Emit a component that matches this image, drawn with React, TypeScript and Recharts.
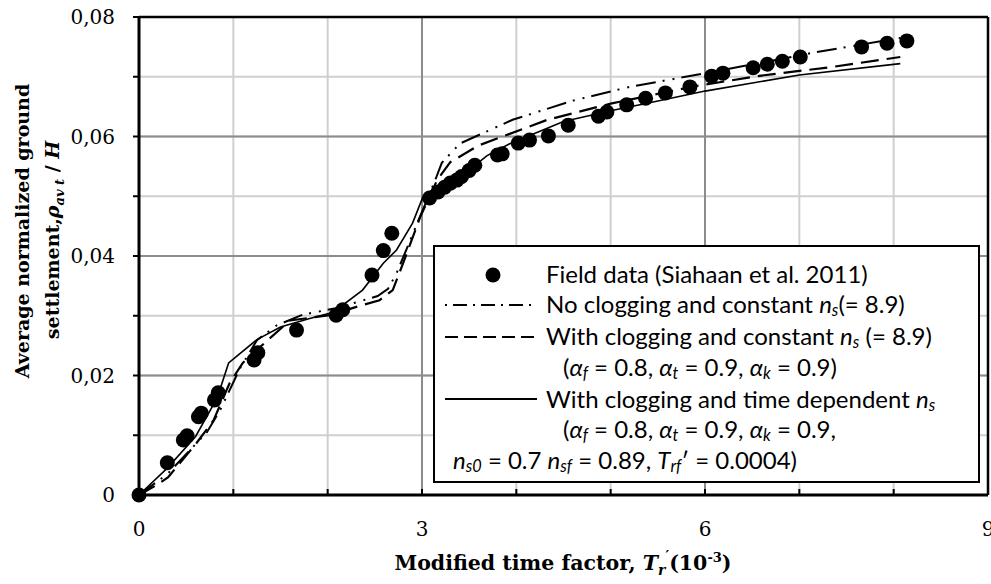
import React from 'react'
import {
  ComposedChart,
  Line,
  Scatter,
  XAxis,
  YAxis,
  CartesianGrid,
  ReferenceLine,
  Legend,
} from 'recharts'

// field data (Siahaan et al. 2011)
const fieldX = [0, 0.3, 0.47, 0.51, 0.63, 0.66, 0.8, 0.84, 1.22, 1.26, 1.67, 2.09, 2.16, 2.47, 2.59, 2.68, 3.08, 3.17, 3.24, 3.3, 3.37, 3.42, 3.5, 3.56, 3.8, 3.85, 4.02, 4.14, 4.34, 4.55, 4.87, 4.96, 5.17, 5.37, 5.58, 5.84, 6.07, 6.19, 6.51, 6.66, 6.82, 7.01, 7.66, 7.93, 8.14]
const fieldY = [0, 0.0054, 0.0092, 0.0099, 0.0131, 0.0137, 0.0159, 0.0171, 0.0226, 0.0238, 0.0276, 0.0301, 0.031, 0.0368, 0.0409, 0.0438, 0.0497, 0.0507, 0.0515, 0.0522, 0.0527, 0.0533, 0.0543, 0.0552, 0.0569, 0.0571, 0.0589, 0.0594, 0.0601, 0.0619, 0.0634, 0.0641, 0.0653, 0.0664, 0.0673, 0.0683, 0.0701, 0.0706, 0.0715, 0.0721, 0.0726, 0.0733, 0.075, 0.0756, 0.076]

// no clogging, constant ns
const noClogX = [0, 0.3, 0.72, 0.86, 1.07, 1.25, 1.46, 1.74, 2.1, 2.53, 2.64, 2.73, 2.89, 3.14, 3.21, 3.4, 3.96, 4.6, 5.2, 6.08, 7.14, 8.07]
const noClogY = [0, 0.0035, 0.0105, 0.0142, 0.0212, 0.0259, 0.0284, 0.0302, 0.0313, 0.0333, 0.0345, 0.0371, 0.0432, 0.0527, 0.0556, 0.0588, 0.0628, 0.066, 0.0683, 0.0708, 0.074, 0.0765]

// with clogging, constant ns
const clogX = [0, 0.19, 0.31, 0.61, 0.79, 0.96, 1.1, 1.25, 1.6, 2.02, 2.37, 2.55, 2.69, 2.8, 2.98, 3.16, 3.3, 3.6, 4.33, 5.0, 5.92, 6.6, 7.33, 8.07]
const clogY = [0, 0.0017, 0.003, 0.0087, 0.0125, 0.0187, 0.0221, 0.0243, 0.0292, 0.0301, 0.0318, 0.0326, 0.0343, 0.0388, 0.0465, 0.0527, 0.0557, 0.0585, 0.0628, 0.0655, 0.0685, 0.0702, 0.0716, 0.0733]

// with clogging, time dependent ns
const timeX = [0, 0.3, 0.6, 0.83, 0.95, 1.25, 1.5, 1.8, 2.06, 2.37, 2.59, 2.73, 2.9, 3.01, 3.19, 3.43, 3.69, 3.93, 4.5, 5.0, 5.4, 6.0, 7.0, 8.07]
const timeY = [0, 0.0045, 0.0098, 0.0163, 0.0221, 0.026, 0.0281, 0.0295, 0.0306, 0.0343, 0.0388, 0.041, 0.0455, 0.0499, 0.052, 0.0535, 0.0568, 0.0588, 0.0625, 0.0643, 0.0656, 0.0676, 0.0703, 0.0722]

const xTicks = [0, 1, 2, 3, 4, 5, 6, 7, 8, 9]
const xLabels = [0, 3, 6, 9]
const yTicks = [0, 0.01, 0.02, 0.03, 0.04, 0.05, 0.06, 0.07, 0.08]
const yLabels = [0, 0.02, 0.04, 0.06, 0.08]
const majorX = [3, 6]
const majorY = [0.02, 0.04, 0.06]

const zip = (xs: number[], ys: number[]) => xs.map((x, i) => ({ x, y: ys[i] }))

const field = zip(fieldX, fieldY)
const noClog = zip(noClogX, noClogY)
const clog = zip(clogX, clogY)
const timeDep = zip(timeX, timeY)

const serif = '"DejaVu Serif", serif'
const sans = 'Lato, "Open Sans", sans-serif'

const DOTDASH = '20 7 2 8 2 7'
const DASH = '18 8'

const Dot = (p: any) => <circle cx={p.cx} cy={p.cy} r={7.5} fill="#000" />

const Sub = ({ children }: { children: React.ReactNode }) => (
  <span style={{ fontSize: '0.68em', verticalAlign: '-0.2em', fontStyle: 'italic', lineHeight: 1 }}>{children}</span>
)

const I = ({ children }: { children: React.ReactNode }) => <span style={{ fontStyle: 'italic' }}>{children}</span>

function Sample({ dash, dot }: { dash?: string; dot?: boolean }) {
  return (
    <svg width={96} height={20} style={{ position: 'absolute', left: 8, top: -10 }}>
      {dot ? (
        <circle cx={50} cy={10} r={7.5} fill="#000" />
      ) : (
        <line x1={2} x2={94} y1={10} y2={10} stroke="#000" strokeWidth={2} strokeDasharray={dash} />
      )}
    </svg>
  )
}

function Row({ top, left, children }: { top: number; left: number; children: React.ReactNode }) {
  return (
    <div style={{ position: 'absolute', top: top - 14, left, whiteSpace: 'nowrap', lineHeight: '28px', height: 28 }}>{children}</div>
  )
}

function LegendBox() {
  return (
    <div
      style={{
        position: 'relative',
        width: 547,
        height: 238,
        border: '2px solid #000',
        boxSizing: 'border-box',
        background: '#fff',
        fontFamily: sans,
        fontSize: 24,
        color: '#000',
      }}
    >
      <div style={{ position: 'absolute', top: 28, left: 0 }}><Sample dot /></div>
      <Row top={27} left={111}>Field data (Siahaan et al. 2011)</Row>
      <div style={{ position: 'absolute', top: 58, left: 0 }}><Sample dash="2 6 14 6" /></div>
      <Row top={57} left={111}>No clogging and constant <I>n</I><Sub>s</Sub>(= 8.9)</Row>
      <div style={{ position: 'absolute', top: 90, left: 0 }}><Sample dash="13 6" /></div>
      <Row top={89} left={111}>With clogging and constant <I>n</I><Sub>s</Sub> (= 8.9)</Row>
      <Row top={120} left={128}>(<I>α</I><Sub>f</Sub> = 0.8, <I>α</I><Sub>t</Sub> = 0.9, <I>α</I><Sub>k</Sub> = 0.9)</Row>
      <div style={{ position: 'absolute', top: 152, left: 0 }}><Sample /></div>
      <Row top={152} left={111}>With clogging and time dependent <I>n</I><Sub>s</Sub></Row>
      <Row top={182} left={128}>(<I>α</I><Sub>f</Sub> = 0.8, <I>α</I><Sub>t</Sub> = 0.9, <I>α</I><Sub>k</Sub> = 0.9,</Row>
      <Row top={213} left={18}><I>n</I><Sub>s0</Sub> = 0.7 <I>n</I><Sub>sf</Sub> = 0.89, <I>T</I><Sub>rf</Sub>′ = 0.0004)</Row>
    </div>
  )
}

const fmtY = (v: number) => {
  if (!yLabels.some((l) => Math.abs(l - v) < 1e-9)) return ''
  return v === 0 ? '0' : v.toFixed(2).replace('.', ',')
}
const fmtX = (v: number) => (xLabels.includes(v) ? String(v) : '')

export default function App() {
  return (
    <div style={{ position: 'fixed', left: 0, top: 0, width: 991, height: 584, background: '#fff' }}>
      <ComposedChart width={991} height={584} margin={{ top: 17, right: 3, bottom: 0, left: 0 }}>
        <CartesianGrid stroke="#cfcfcf" strokeWidth={2} vertical horizontal />
        {majorX.map((v) => (
          <ReferenceLine key={'mx' + v} x={v} stroke="#8c8c8c" strokeWidth={2} />
        ))}
        {majorY.map((v) => (
          <ReferenceLine key={'my' + v} y={v} stroke="#8c8c8c" strokeWidth={2} />
        ))}
        <ReferenceLine y={0.08} stroke="#000" strokeWidth={2.5} />
        <ReferenceLine x={9} stroke="#000" strokeWidth={2.5} />
        <XAxis
          type="number"
          dataKey="x"
          domain={[0, 9]}
          ticks={xTicks}
          tickFormatter={fmtX}
          interval={0}
          height={89}
          tickSize={-6}
          tickMargin={33}
          axisLine={{ stroke: '#000', strokeWidth: 3 }}
          tickLine={{ stroke: '#000', strokeWidth: 2 }}
          tick={{ fill: '#000', fontFamily: serif, fontSize: 20 }}
          label={{
            content: () => (
              <text x={563} y={570} textAnchor="middle" fontFamily={serif} fontWeight="bold" fontSize={20.5} fill="#000">
                Modified time factor,{' '}
                <tspan fontStyle="italic">T</tspan>
                <tspan fontStyle="italic" fontSize={14} dy={5}>r</tspan>
                <tspan fontSize={14} dy={-14}>′</tspan>
                <tspan dy={9}>(10</tspan>
                <tspan fontSize={13} dy={-8}>-3</tspan>
                <tspan dy={8}>)</tspan>
              </text>
            ),
          }}
        />
        <YAxis
          type="number"
          domain={[0, 0.08]}
          ticks={yTicks}
          tickFormatter={fmtY}
          interval={0}
          width={139}
          tickSize={6}
          tickMargin={18}
          axisLine={{ stroke: '#000', strokeWidth: 3 }}
          tickLine={{ stroke: '#000', strokeWidth: 2 }}
          tick={{ fill: '#000', fontFamily: serif, fontSize: 20 }}
          label={{
            content: () => (
              <g fontFamily={serif} fontWeight="bold" fontSize={19} fill="#000">
                <text transform="translate(29,231) rotate(-90)" textAnchor="middle">
                  Average normalized ground
                </text>
                <text transform="translate(59,240) rotate(-90)" textAnchor="middle">
                  settlement,<tspan fontStyle="italic">ρ</tspan>
                  <tspan fontStyle="italic" fontSize={13} dy={5}>av t</tspan>
                  <tspan dy={-5}> / </tspan>
                  <tspan fontStyle="italic">H</tspan>
                </text>
              </g>
            ),
          }}
        />
        <Scatter data={field} dataKey="y" fill="#000" shape={Dot} isAnimationActive={false} />
        <Line data={noClog} dataKey="y" type="linear" stroke="#000" strokeWidth={2} strokeDasharray={DOTDASH} dot={false} activeDot={false} isAnimationActive={false} />
        <Line data={clog} dataKey="y" type="linear" stroke="#000" strokeWidth={2.2} strokeDasharray={DASH} dot={false} activeDot={false} isAnimationActive={false} />
        <Line data={timeDep} dataKey="y" type="linear" stroke="#000" strokeWidth={1.6} dot={false} activeDot={false} isAnimationActive={false} />
        <Legend
          layout="horizontal"
          verticalAlign="middle"
          align="center"
          content={() => <LegendBox />}
          wrapperStyle={{ position: 'absolute', left: 433, top: 245, width: 547, height: 238 }}
        />
      </ComposedChart>
    </div>
  )
}
